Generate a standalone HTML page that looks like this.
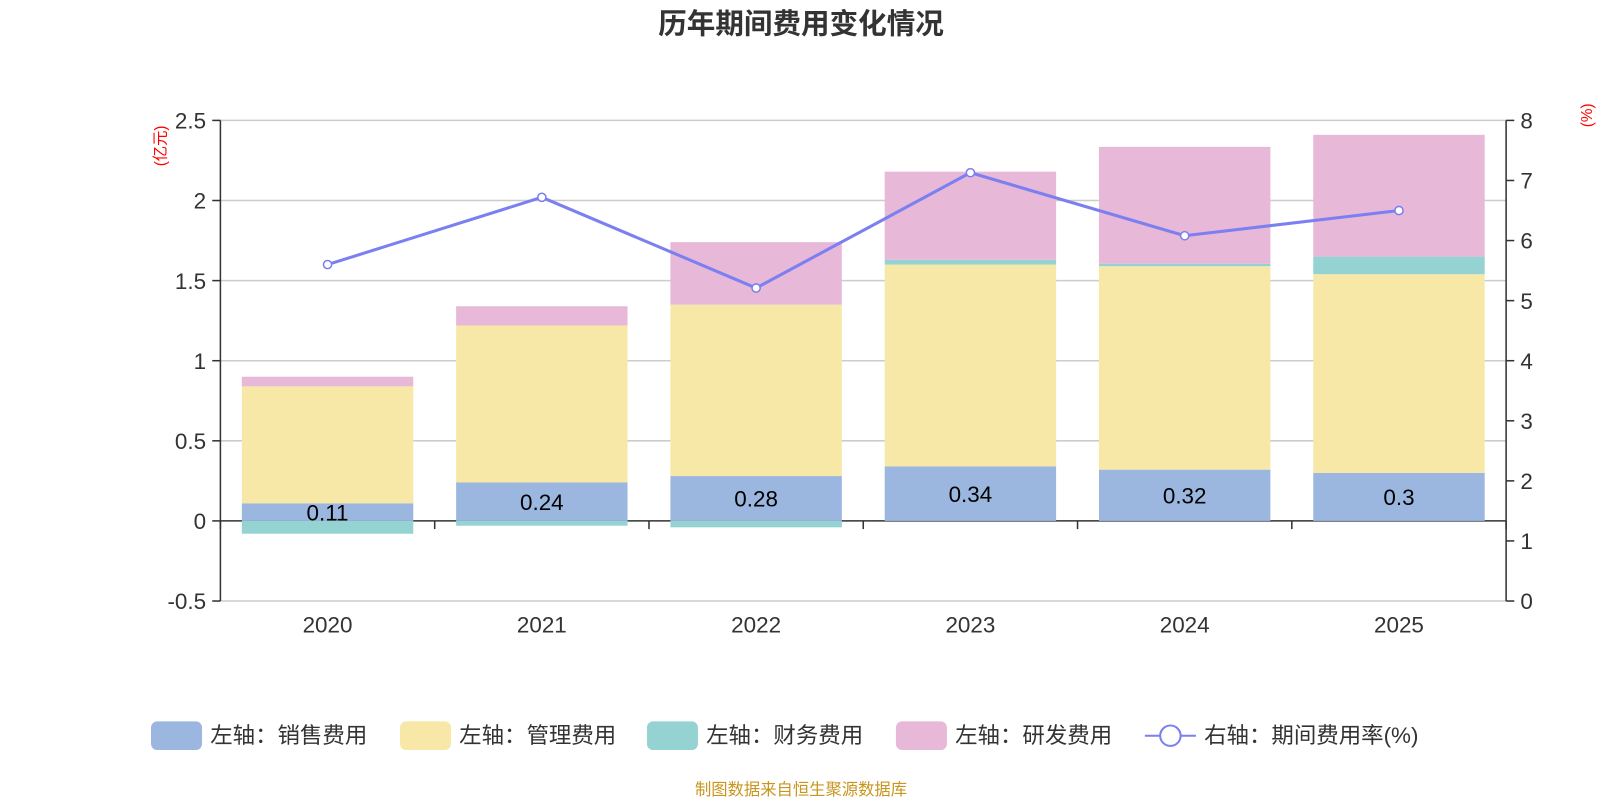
<!DOCTYPE html>
<html><head><meta charset="utf-8"><style>
body{margin:0;background:#fff;}
svg text{font-family:"Liberation Sans","Noto Sans CJK SC",sans-serif;}
</style></head><body>
<svg id="c" width="1600" height="800" xmlns="http://www.w3.org/2000/svg">
<g transform="scale(1.0204)">
<text x="785" y="33" text-anchor="middle" font-size="28" font-weight="bold" fill="#333">历年期间费用变化情况</text>
<text transform="translate(162,143) rotate(-90)" text-anchor="middle" font-size="15" fill="red">(亿元)</text>
<text transform="translate(1560,113) rotate(-90)" text-anchor="middle" font-size="15" fill="red">(%)</text>
<g id="grid"></g><g id="bars"></g><g id="axes"></g><g id="line"></g>
<g id="legend"></g>
<text x="785" y="779" text-anchor="middle" font-size="16" fill="#c8961e">制图数据来自恒生聚源数据库</text>
</g>
</svg>
<script>
const years=['2020','2021','2022','2023','2024','2025'];
const sales=[0.11,0.24,0.28,0.34,0.32,0.30];
const mgmt=[0.73,0.98,1.07,1.26,1.27,1.24];
const fin=[-0.08,-0.03,-0.04,0.03,0.015,0.11];
const rnd=[0.06,0.12,0.39,0.55,0.73,0.76];
const rate=[5.60,6.72,5.21,7.13,6.08,6.50];
const leftTicks=[-0.5,0,0.5,1,1.5,2,2.5];
const rightTicks=[0,1,2,3,4,5,6,7,8];
const NS='http://www.w3.org/2000/svg';
const X0=216,X1=1476,YT=118,YB=589;
const yL=v=>YB-(v+0.5)/3*(YB-YT);
const yR=v=>YB-v/8*(YB-YT);
const bw=(X1-X0)/years.length;
const xc=i=>X0+bw*(i+0.5);
function mk(p,t,a){const e=document.createElementNS(NS,t);for(const k in a)e.setAttribute(k,a[k]);document.getElementById(p).appendChild(e);return e;}
leftTicks.forEach(v=>{
 let l=mk('grid','line',{x1:X0,x2:X1,y1:yL(v),y2:yL(v),stroke:v===0?'#333':'#ccc','stroke-width':1.5});
 
 
 let t=mk('axes','text',{x:X0-14,y:yL(v)+8,'text-anchor':'end','font-size':22,fill:'#333'});t.textContent=v;
 
 
 mk('axes','line',{x1:X0-8,x2:X0,y1:yL(v),y2:yL(v),stroke:'#333','stroke-width':1.5});
});
rightTicks.forEach(v=>{
 let t=mk('axes','text',{x:X1+14,y:yR(v)+8,'font-size':22,fill:'#333'});t.textContent=v;
 
 
 mk('axes','line',{x1:X1,x2:X1+8,y1:yR(v),y2:yR(v),stroke:'#333','stroke-width':1.5});
});
mk('axes','line',{x1:X0,x2:X0,y1:YT,y2:YB,stroke:'#333','stroke-width':1.5});
mk('axes','line',{x1:X1,x2:X1,y1:YT,y2:YB,stroke:'#333','stroke-width':1.5});
for(let i=0;i<=years.length;i++)mk('axes','line',{x1:X0+bw*i,x2:X0+bw*i,y1:yL(0),y2:yL(0)+8,stroke:'#333','stroke-width':1.5});
years.forEach((y,i)=>{let t=mk('axes','text',{x:xc(i),y:620,'text-anchor':'middle','font-size':22,fill:'#333'});t.textContent=y;
 
 });
const series=[[sales,'#9bb7e0','sales'],[mgmt,'#f7e8a8','mgmt'],[fin,'#95d3d3','fin'],[rnd,'#e7b8d8','rnd']];
const bwid=168;
years.forEach((y,i)=>{
 let pos=0,neg=0;
 series.forEach(([arr,col,nm])=>{
  const v=arr[i];let a,b;
  if(v>=0){a=pos;b=pos+v;pos=b;}else{a=neg+v;b=neg;neg=a;}
  const r=mk('bars','rect',{x:xc(i)-bwid/2,y:yL(b),width:bwid,height:Math.max(0,yL(a)-yL(b)),fill:col});
  
  
 });
 const t=mk('bars','text',{x:xc(i),y:(yL(0)+yL(sales[i]))/2+8,'text-anchor':'middle','font-size':22,fill:'#000'});
 t.textContent=sales[i];
 
 
});
const pts=rate.map((v,i)=>xc(i)+','+yR(v)).join(' ');
const pl=mk('line','polyline',{points:pts,fill:'none',stroke:'#7b7ff0','stroke-width':3});


rate.forEach((v,i)=>{const c=mk('line','circle',{cx:xc(i),cy:yR(v),r:4,fill:'#fff',stroke:'#7b7ff0','stroke-width':1.5});
 
 });
const leg=[['左轴：销售费用','#9bb7e0',148],['左轴：管理费用','#f7e8a8',392],['左轴：财务费用','#95d3d3',634],['左轴：研发费用','#e7b8d8',878]];
leg.forEach(([txt,col,x])=>{
 const r=mk('legend','rect',{x:x,y:707,width:50,height:28,rx:6,fill:col});
 
 
 const t=mk('legend','text',{x:x+58,y:728,'font-size':22,fill:'#333'});t.textContent=txt;
 
 
});
mk('legend','line',{x1:1122,x2:1172,y1:721,y2:721,stroke:'#7b7ff0','stroke-width':2});
mk('legend','circle',{cx:1147,cy:721,r:10,fill:'#fff',stroke:'#7b7ff0','stroke-width':2});
const lt=mk('legend','text',{x:1180,y:728,'font-size':22,fill:'#333'});lt.textContent='右轴：期间费用率(%)';


</script>
</body></html>
